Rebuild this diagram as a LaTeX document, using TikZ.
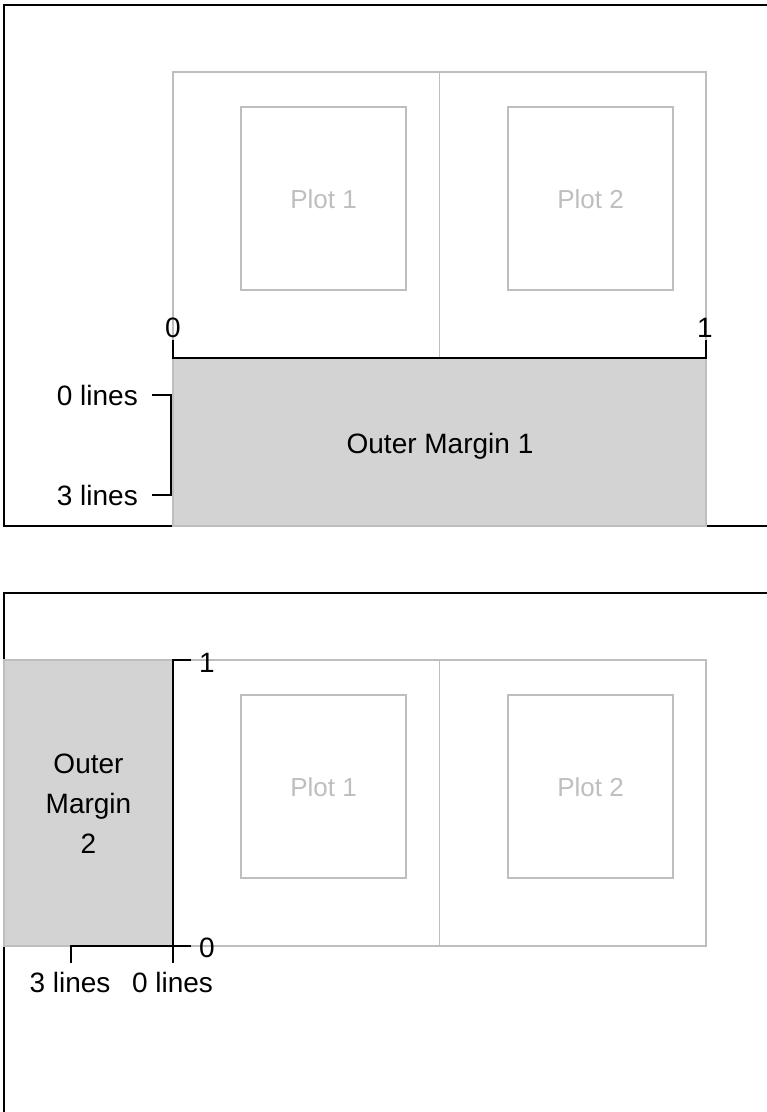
\documentclass[tikz,border=0pt]{standalone}
\usepackage{fontspec}
\setmainfont{Liberation Sans}
\definecolor{rgrey}{HTML}{BEBEBE}
\definecolor{rlight}{HTML}{D3D3D3}
\begin{document}
\begin{tikzpicture}[x=1pt,y=-1pt,
  frame/.style={draw=black,line width=1.6pt},
  greybox/.style={draw=rgrey,line width=1.2pt},
  margin/.style={fill=rlight},
  axisline/.style={draw=black,line width=1.5pt},
  lab/.style={font=\fontsize{28}{34}\selectfont,inner sep=0pt,anchor=base},
  plotlab/.style={font=\fontsize{26}{31}\selectfont,inner sep=0pt,anchor=base,text=rgrey}]
\useasboundingbox (0,0) rectangle (767,1112);
\clip (0,0) rectangle (767,1112);

% ---------- top panel ----------
\draw[frame] (4,5) rectangle (800,526);
\fill[margin] (173,358) rectangle (706,526);
\draw[greybox] (173,358) rectangle (706,526);
\draw[greybox] (173,72) rectangle (706,358);
\draw[greybox] (439.5,72) -- (439.5,358);
\draw[greybox] (241,107) rectangle (406,290);
\draw[greybox] (508,107) rectangle (673,290);
\node[plotlab] (tp1) at (323.5,208) {Plot 1};
\node[plotlab] (tp2) at (590.5,208) {Plot 2};
\node[lab] (om1) at (440,453) {Outer Margin 1};

\coordinate (ta0) at (173,358);
\coordinate (ta1) at (706,358);
\draw[axisline] (173,340) -- (ta0) -- (ta1) -- (706,340);
\node[lab] (t0) at (173,337) {0};
\node[lab] (t1) at (705,337) {1};

\coordinate (tl0) at (171,395);
\coordinate (tl3) at (171,495);
\draw[axisline] (152,395) -- (tl0) -- (tl3) -- (152,495);
\node[lab,anchor=base east] (tl0lab) at (138,405) {0 lines};
\node[lab,anchor=base east] (tl3lab) at (138,505) {3 lines};

% ---------- bottom panel ----------
\draw[frame] (4,593) rectangle (800,1200);
\fill[margin] (4,660) rectangle (173,946);
\draw[greybox] (4,660) rectangle (173,946);
\draw[greybox] (173,660) rectangle (706,946);
\draw[greybox] (439.5,660) -- (439.5,946);
\draw[greybox] (241,695) rectangle (406,878);
\draw[greybox] (508,695) rectangle (673,878);
\node[plotlab] (bp1) at (323.5,796) {Plot 1};
\node[plotlab] (bp2) at (590.5,796) {Plot 2};
\node[lab] (om2a) at (88.5,773) {Outer};
\node[lab] (om2b) at (88.5,813) {Margin};
\node[lab] (om2c) at (88.5,853) {2};

\coordinate (ba1) at (173,660);
\coordinate (ba0) at (173,946);
\draw[axisline] (191,660) -- (ba1) -- (ba0) -- (191,946);
\node[lab,anchor=base west] (b1) at (199,672) {1};
\node[lab,anchor=base west] (b0) at (199,957) {0};

\coordinate (bl3) at (71,946);
\draw[axisline] (71,963) -- (bl3) -- (ba0) -- (173,963);
\node[lab] (bl3lab) at (70,992) {3 lines};
\node[lab] (bl0lab) at (172.5,992) {0 lines};
\end{tikzpicture}
\end{document}
